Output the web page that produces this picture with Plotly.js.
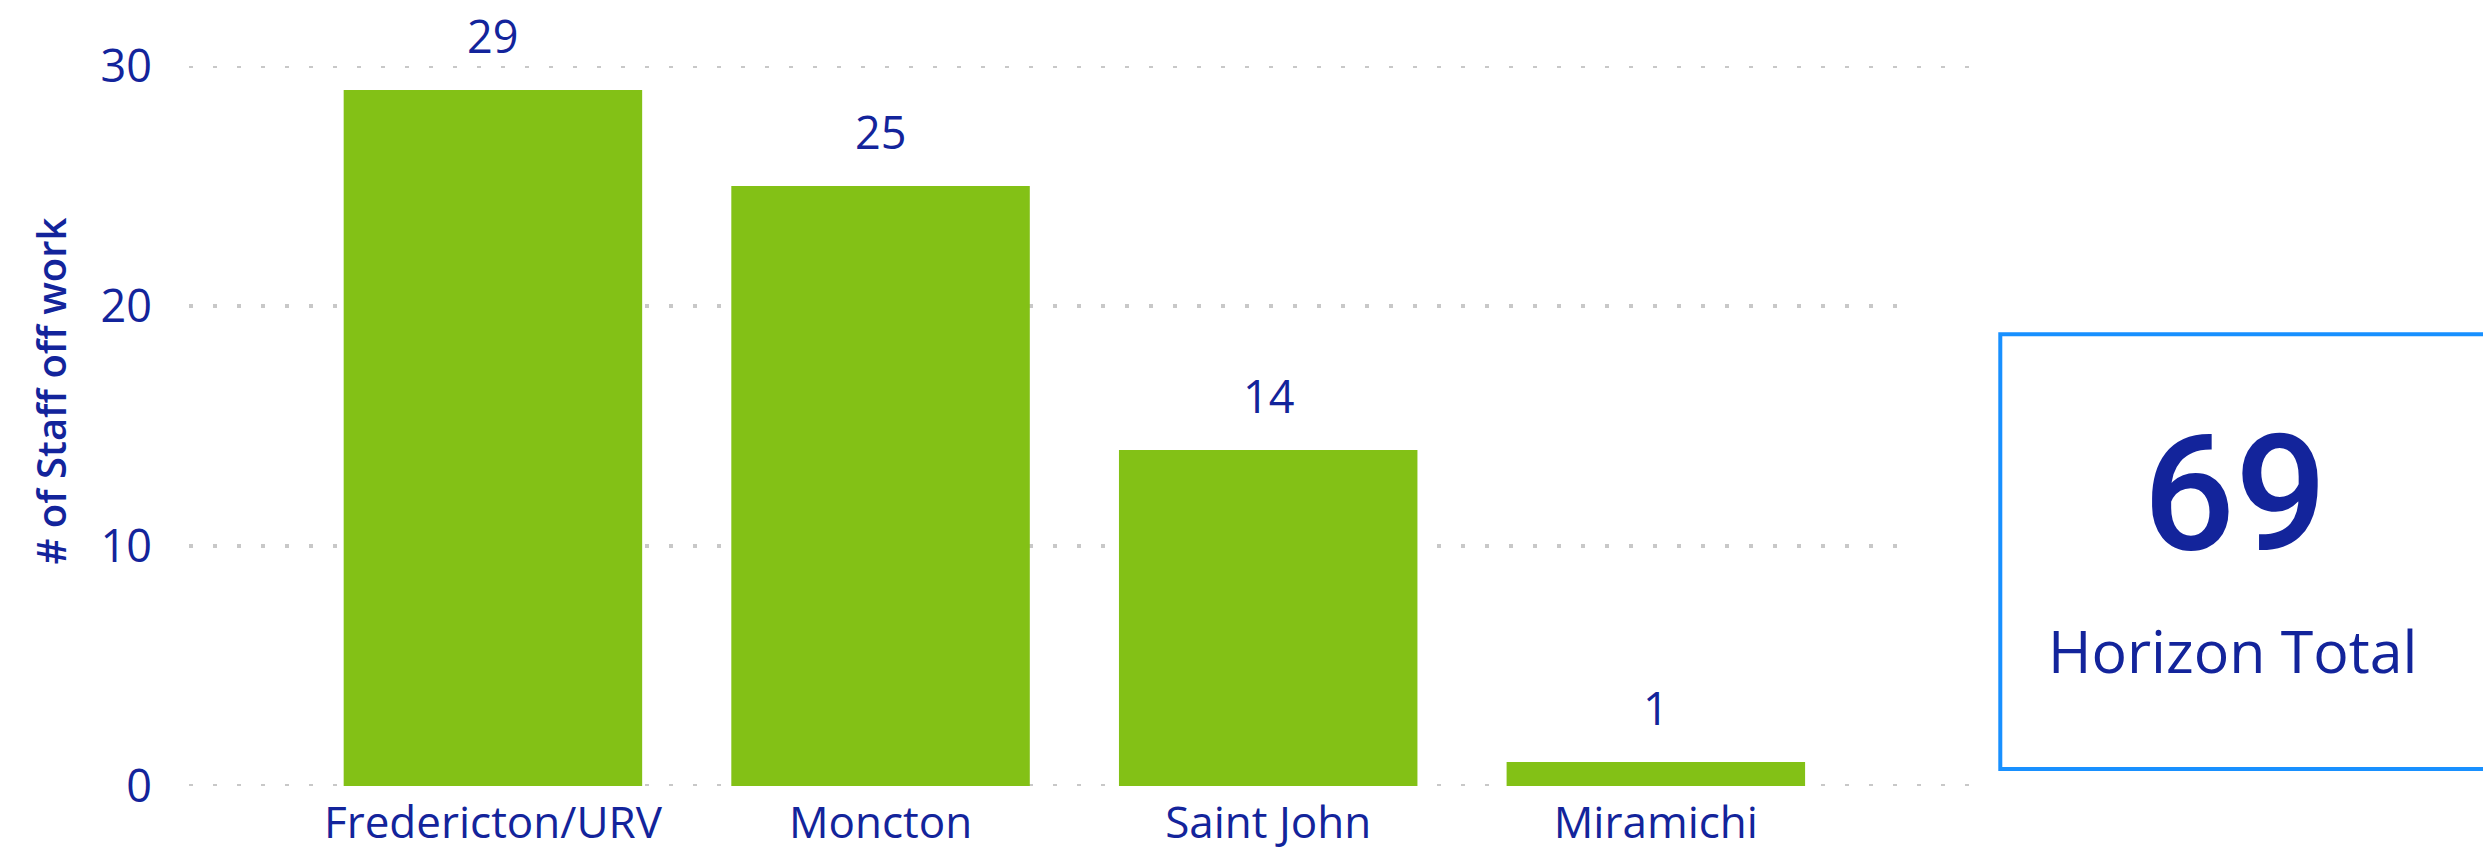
<!DOCTYPE html>
<html>
<head>
<meta charset="utf-8">
<script src="https://cdn.plot.ly/plotly-3.0.1.min.js"></script>
<style>html,body{margin:0;padding:0;background:#fff;}#chart{width:2483px;height:854px;}</style>
</head>
<body>
<div id="chart"></div>
<script>
// ---- data ----
const categories = ['Fredericton/URV', 'Moncton', 'Saint John', 'Miramichi'];
const staffOffWork = [29, 25, 14, 1];
const yTickValues = [0, 10, 20, 30];
const yAxisTitle = '# of Staff off work';
const cardLabel = 'Horizon Total';

// ---- styles ----
const textColor = '#13249B';
const barColor = '#83C116';
const gridColor = '#C8C8C8';
const cardBorder = '#1890FF';
const baseFont = 'Open Sans, Noto Sans, sans-serif';

const total = staffOffWork.reduce((a, b) => a + b, 0);

const trace = {
  type: 'bar',
  x: categories,
  y: staffOffWork,
  width: 0.77,
  marker: { color: barColor },
  hoverinfo: 'none'
};

const dataLabels = categories.map((c, i) => ({
  x: c, y: staffOffWork[i], xref: 'x', yref: 'y',
  text: String(staffOffWork[i]), showarrow: false,
  yanchor: 'bottom', yshift: 22,
  font: { family: baseFont, size: 45, color: textColor }
}));

// dotted gridlines drawn from the tick values (inner lines are shorter, as in the original)
const gridShapes = yTickValues.map((v, i) => ({
  type: 'line', xref: 'paper', yref: 'y',
  x0: 0, x1: (i === 0 || i === yTickValues.length - 1) ? 1 : 0.9615,
  y0: v, y1: v,
  line: { color: gridColor, width: 4, dash: '4px,20px' },
  layer: 'below'
}));

const layout = {
  width: 2483, height: 854,
  margin: { l: 189, r: 512, t: 66, b: 68 },
  paper_bgcolor: '#ffffff', plot_bgcolor: 'rgba(0,0,0,0)',
  showlegend: false,
  font: { family: baseFont, color: textColor },
  xaxis: {
    type: 'category',
    range: [-0.784, 3.813],
    showgrid: false, zeroline: false, showline: false,
    ticks: '', ticklabelstandoff: 7,
    tickfont: { family: baseFont, size: 44, color: textColor },
    fixedrange: true
  },
  yaxis: {
    range: [0, 30],
    tickvals: yTickValues,
    showgrid: false,
    zeroline: false, showline: false, ticks: '',
    ticklabelstandoff: 36,
    tickfont: { family: baseFont, size: 45, color: textColor },
    fixedrange: true
  },
  shapes: gridShapes.concat([
    { type: 'rect', xref: 'paper', yref: 'paper', x0: 1.01644, x1: 1.30, y0: 0.02361, y1: 0.6274,
      fillcolor: 'rgba(0,0,0,0)', line: { color: cardBorder, width: 4 }, layer: 'above' }
  ]),
  annotations: dataLabels.concat([
    { xref: 'paper', yref: 'paper', x: -0.078, y: 0.548, text: yAxisTitle, textangle: -90,
      showarrow: false, xanchor: 'center', yanchor: 'middle',
      font: { family: baseFont, size: 40, weight: 600, color: textColor } },
    { xref: 'paper', yref: 'paper', x: 1.1479, y: 0.4049, text: String(total),
      showarrow: false, xanchor: 'center', yanchor: 'middle',
      font: { family: 'Roboto, sans-serif', size: 162, weight: 500, color: textColor } },
    { xref: 'paper', yref: 'paper', x: 1.147, y: 0.1889, text: cardLabel,
      showarrow: false, xanchor: 'center', yanchor: 'middle',
      font: { family: baseFont, size: 59, color: textColor } }
  ])
};

Plotly.newPlot('chart', [trace], layout, { displayModeBar: false, staticPlot: true });
</script>
</body>
</html>
